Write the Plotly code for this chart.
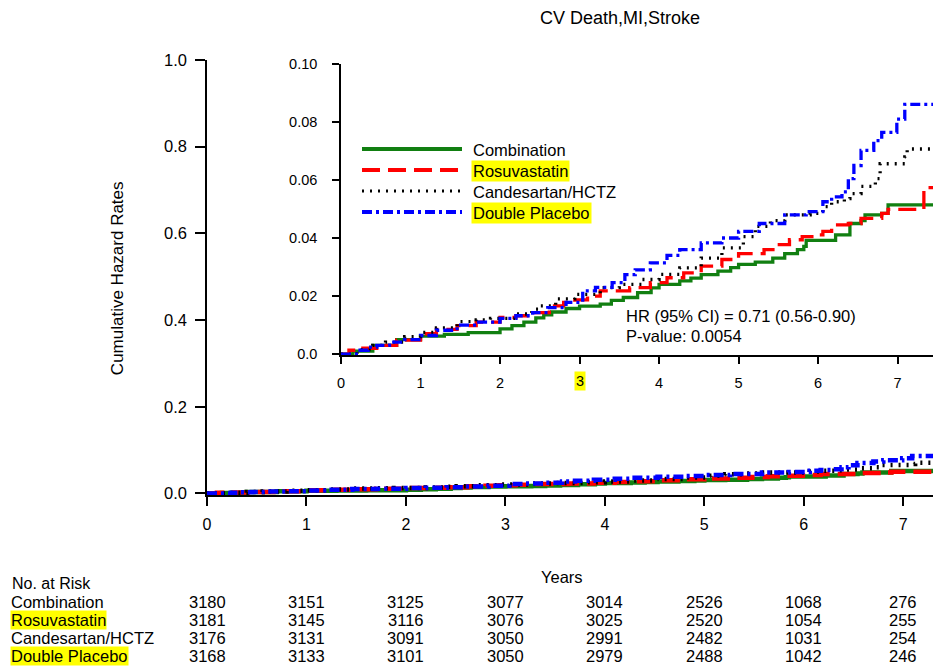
import plotly.graph_objects as go

# ---------------- data ----------------
groups = ["Combination", "Rosuvastatin", "Candesartan/HCTZ", "Double Placebo"]

comb_t = [0, 0.15, 0.4, 0.7, 1.0, 1.3, 1.6, 2.0, 2.15, 2.3, 2.45, 2.55, 2.65, 2.83, 3.0, 3.26, 3.4,
          3.55, 3.73, 3.9, 4.0, 4.26, 4.4, 4.53, 4.74, 4.9, 5.0, 5.21, 5.43, 5.58, 5.74, 5.82, 5.85,
          6.22, 6.4, 6.54, 6.59, 6.8, 6.88, 7.45]
comb_v = [0, 0.001, 0.003, 0.005, 0.0062, 0.0068, 0.0074, 0.0087, 0.0098, 0.011, 0.0125, 0.0135,
          0.0145, 0.0157, 0.0165, 0.0172, 0.0185, 0.0195, 0.0212, 0.0228, 0.024, 0.0252, 0.0262,
          0.0274, 0.0286, 0.0298, 0.0309, 0.0317, 0.0331, 0.0346, 0.036, 0.0371, 0.0392, 0.0411,
          0.045, 0.046, 0.048, 0.0485, 0.0514, 0.0514]

rosu_t = [0, 0.1, 0.25, 0.45, 0.7, 1.0, 1.2, 1.46, 1.7, 2.0, 2.2, 2.41, 2.62, 2.8, 2.94, 3.1, 3.26,
          3.63, 3.89, 4.1, 4.31, 4.53, 4.79, 5.0, 5.32, 5.48, 5.64, 5.8, 5.98, 6.06, 6.17, 6.38, 6.54,
          6.8, 6.88, 7.33, 7.45]
rosu_v = [0, 0.0013, 0.002, 0.003, 0.0048, 0.007, 0.0085, 0.0098, 0.011, 0.0126, 0.0132, 0.0143,
          0.0166, 0.0178, 0.0187, 0.02, 0.0218, 0.0229, 0.0246, 0.0263, 0.028, 0.0303, 0.0326,
          0.0346, 0.036, 0.0377, 0.0394, 0.0405, 0.0411, 0.0423, 0.0445, 0.045, 0.0468, 0.0485,
          0.0499, 0.0574, 0.0574]

cand_t = [0, 0.2, 0.4, 0.56, 0.8, 1.0, 1.2, 1.46, 1.7, 1.88, 2.2, 2.4, 2.51, 2.7, 2.94, 3.26, 3.5,
          3.79, 4.0, 4.26, 4.53, 4.79, 5.06, 5.21, 5.4, 5.58, 5.9, 6.06, 6.17, 6.33, 6.4, 6.54, 6.72,
          6.78, 7.09, 7.12, 7.45]
cand_v = [0, 0.0015, 0.003, 0.0041, 0.006, 0.0075, 0.009, 0.0112, 0.0118, 0.0123, 0.0138, 0.0155,
          0.0166, 0.019, 0.0206, 0.0229, 0.024, 0.0257, 0.0275, 0.0297, 0.0331, 0.0366, 0.0405,
          0.044, 0.046, 0.048, 0.0485, 0.0508, 0.0525, 0.0536, 0.0553, 0.0578, 0.0605, 0.0656,
          0.068, 0.0707, 0.0707]

dbl_t = [0, 0.24, 0.34, 0.45, 0.61, 0.8, 1.0, 1.2, 1.46, 1.7, 2.0, 2.2, 2.41, 2.6, 2.83, 3.04, 3.2,
         3.41, 3.57, 3.7, 3.89, 4.1, 4.26, 4.53, 4.79, 5.0, 5.26, 5.58, 5.85, 6.06, 6.17, 6.3, 6.38,
         6.45, 6.54, 6.7, 6.8, 6.99, 7.09, 7.45]
dbl_v = [0, 0.0013, 0.0024, 0.003, 0.0041, 0.005, 0.0064, 0.0082, 0.01, 0.011, 0.0123, 0.0132,
         0.0143, 0.016, 0.0178, 0.0218, 0.023, 0.0246, 0.0274, 0.029, 0.0314, 0.034, 0.036, 0.0383,
         0.04, 0.0423, 0.045, 0.048, 0.0491, 0.0525, 0.0542, 0.0559, 0.0605, 0.065, 0.0702, 0.0736,
         0.0764, 0.081, 0.0861, 0.0861]

risk_years = [0, 1, 2, 3, 4, 5, 6, 7]
risk_comb = [3180, 3151, 3125, 3077, 3014, 2526, 1068, 276]
risk_rosu = [3181, 3145, 3116, 3076, 3025, 2520, 1054, 255]
risk_cand = [3176, 3131, 3091, 3050, 2991, 2482, 1031, 254]
risk_dbl = [3168, 3133, 3101, 3050, 2979, 2488, 1042, 246]

main_yticks = [0.0, 0.2, 0.4, 0.6, 0.8, 1.0]
inset_yticks = [0.0, 0.02, 0.04, 0.06, 0.08, 0.10]
inset_yticktext = ["0.0", "0.02", "0.04", "0.06", "0.08", "0.10"]

title_text = "CV Death,MI,Stroke"
hr_text = "HR (95% CI) = 0.71 (0.56-0.90)"
p_text = "P-value: 0.0054"

# ---------------- styles ----------------
FONT = "Liberation Sans, Arial, sans-serif"
colors = ["#117f11", "#ff0000", "#000000", "#0000ff"]
dashes = ["solid", "18px,8px", "2px,6px", "10px,4px,3px,4px"]
highlight = [False, True, False, True]
series = [(comb_t, comb_v), (rosu_t, rosu_v), (cand_t, cand_v), (dbl_t, dbl_v)]
risks = [risk_comb, risk_rosu, risk_cand, risk_dbl]

OFF = 8                     # page body margin
W, H = 941 - OFF, 668 - OFF
L = 207 - OFF
T = 60 - OFF
B = H - (494.7 - OFF)
R = 0
pw = W - L - R
ph = H - T - B


def px(x):
    return (x - OFF - L) / pw


def py(y):
    return (H - B - (y - OFF)) / ph


fig = go.Figure()

for name, (t, v), c, d in zip(groups, series, colors, dashes):
    fig.add_trace(go.Scatter(x=t, y=v, mode="lines", line=dict(color=c, width=4.5, dash=d, shape="hv"),
                             name=name, showlegend=False, xaxis="x", yaxis="y", hoverinfo="skip"))
for name, (t, v), c, d in zip(groups, series, colors, dashes):
    fig.add_trace(go.Scatter(x=t, y=v, mode="lines", line=dict(color=c, width=3.3, dash=d, shape="hv"),
                             name=name, showlegend=False, xaxis="x2", yaxis="y2", hoverinfo="skip"))

axis_common = dict(showgrid=False, zeroline=False, showline=True, linecolor="black", linewidth=1.5,
                   ticks="outside", tickcolor="black", tickwidth=1.5)

inset_x0, inset_x1 = px(341), px(935)
inset_y0, inset_y1 = py(355), py(64)

fig.update_layout(
    width=W, height=H,
    margin=dict(l=L, r=R, t=T, b=B, pad=0),
    plot_bgcolor="white", paper_bgcolor="white",
    font=dict(family=FONT, color="black"),
    showlegend=False,
    xaxis=dict(domain=[0, 1], range=[0, 7.38], tickvals=risk_years, ticklen=9, ticklabelstandoff=5,
               tickfont=dict(size=16, family=FONT), anchor="y", **axis_common),
    yaxis=dict(domain=[0, 1], range=[-0.0037, 1.0], tickvals=main_yticks,
               ticktext=["%.1f" % v for v in main_yticks], ticklen=10, ticklabelstandoff=5,
               tickfont=dict(size=16.5, family=FONT), anchor="x", **axis_common),
    xaxis2=dict(domain=[inset_x0, inset_x1], range=[0, 7.47], tickvals=risk_years,
                ticktext=["0", "1", "2", "", "4", "5", "6", "7"], ticklen=7, ticklabelstandoff=7,
                tickfont=dict(size=14.5, family=FONT), anchor="y2", **axis_common),
    yaxis2=dict(domain=[inset_y0, inset_y1], range=[-0.0004, 0.1], tickvals=inset_yticks,
                ticktext=inset_yticktext, ticklen=7, ticklabelstandoff=12,
                tickfont=dict(size=14.5, family=FONT), anchor="x2", **axis_common),
)

ann = []
ann.append(dict(text=title_text, x=px(620), y=py(18), xref="paper", yref="paper", showarrow=False,
                xanchor="center", yanchor="middle", font=dict(size=18, family=FONT)))
ann.append(dict(text="Cumulative Hazard Rates", x=px(117), y=py(278), xref="paper", yref="paper",
                showarrow=False, textangle=-90, xanchor="center", yanchor="middle",
                font=dict(size=17, family=FONT)))
ann.append(dict(text="3", x=3, xref="x2", y=py(381), yref="paper", showarrow=False,
                xanchor="center", yanchor="middle", bgcolor="#ffff00", borderpad=1,
                font=dict(size=14.5, family=FONT)))
leg_rows = [149, 170, 191, 212]
shapes = []
for name, c, d, hl, ry in zip(groups, colors, dashes, highlight, leg_rows):
    shapes.append(dict(type="line", xref="paper", yref="paper", x0=px(362), x1=px(462),
                       y0=py(ry), y1=py(ry), line=dict(color=c, width=4 if d != "2px,6px" else 3, dash=d)))
    ann.append(dict(text=name, x=px(471), y=py(ry + 1), xref="paper", yref="paper", showarrow=False,
                    xanchor="left", yanchor="middle", font=dict(size=16.5, family=FONT),
                    bgcolor="#ffff00" if hl else "rgba(0,0,0,0)", borderpad=1))
ann.append(dict(text=hr_text, x=px(624), y=py(316), xref="paper", yref="paper", showarrow=False,
                xanchor="left", yanchor="middle", font=dict(size=16.5, family=FONT)))
ann.append(dict(text=p_text, x=px(624), y=py(336), xref="paper", yref="paper", showarrow=False,
                xanchor="left", yanchor="middle", font=dict(size=16.5, family=FONT)))
ann.append(dict(text="Years", x=px(562), y=py(577), xref="paper", yref="paper", showarrow=False,
                xanchor="center", yanchor="middle", font=dict(size=16.5, family=FONT)))
ann.append(dict(text="No. at Risk", x=px(10), y=py(583), xref="paper", yref="paper", showarrow=False,
                xanchor="left", yanchor="middle", font=dict(size=16, family=FONT)))
row_y = [602, 620, 638, 656]
for name, hl, ry, vals in zip(groups, highlight, row_y, risks):
    ann.append(dict(text=name, x=px(10), y=py(ry), xref="paper", yref="paper", showarrow=False,
                    xanchor="left", yanchor="middle", font=dict(size=16.5, family=FONT),
                    bgcolor="#ffff00" if hl else "rgba(0,0,0,0)", borderpad=0))
    for yr, n in zip(risk_years, vals):
        ann.append(dict(text=str(n), x=yr, xref="x", y=py(ry), yref="paper", showarrow=False,
                        xanchor="center", yanchor="middle", font=dict(size=16.5, family=FONT)))

fig.update_layout(annotations=ann, shapes=shapes)
fig.write_html("out.html")
